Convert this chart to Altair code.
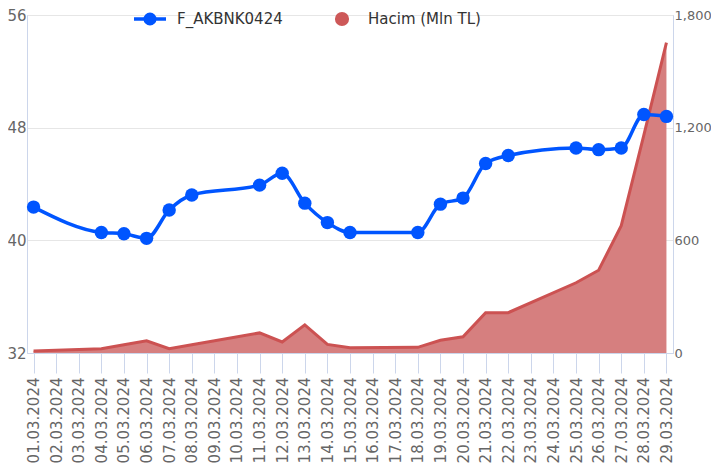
import altair as alt
import pandas as pd

dates = ["01.03.2024", "02.03.2024", "03.03.2024", "04.03.2024", "05.03.2024",
         "06.03.2024", "07.03.2024", "08.03.2024", "09.03.2024", "10.03.2024",
         "11.03.2024", "12.03.2024", "13.03.2024", "14.03.2024", "15.03.2024",
         "16.03.2024", "17.03.2024", "18.03.2024", "19.03.2024", "20.03.2024",
         "21.03.2024", "22.03.2024", "23.03.2024", "24.03.2024", "25.03.2024",
         "26.03.2024", "27.03.2024", "28.03.2024", "29.03.2024"]

trade_dates = ["01.03.2024", "04.03.2024", "05.03.2024", "06.03.2024", "07.03.2024",
               "08.03.2024", "11.03.2024", "12.03.2024", "13.03.2024", "14.03.2024",
               "15.03.2024", "18.03.2024", "19.03.2024", "20.03.2024", "21.03.2024",
               "22.03.2024", "25.03.2024", "26.03.2024", "27.03.2024", "28.03.2024",
               "29.03.2024"]

price = [42.36, 40.56, 40.47, 40.14, 42.15,
         43.22, 43.92, 44.76, 42.64, 41.26,
         40.56, 40.56, 42.57, 43.0, 45.46,
         46.02, 46.56, 46.44, 46.56, 48.94,
         48.8]

volume = [10, 23, 44, 65, 23,
          44, 107, 59, 150, 46,
          28, 30, 68, 86, 215,
          215, 374, 441, 678, 1160,
          1653]

series_names = ["F_AKBNK0424", "Hacim (Mln TL)"]

df = pd.DataFrame({"date": trade_dates, "price": price, "volume": volume})
one = pd.DataFrame({"k": [0]})

BLUE = "#0055ff"
RED_LINE = "#cc5252"
RED_FILL = "#d67f7f"
AXIS_LINE = "#ccd6eb"
LABEL = "#666666"
FONT = "DejaVu Sans"

x = alt.X(
    "date:O",
    scale=alt.Scale(domain=dates, type="point", padding=0.29),
    axis=alt.Axis(title=None, labelAngle=-90, labelFontSize=15, labelColor=LABEL,
                  labelFont=FONT, tickSize=20, tickColor=AXIS_LINE, domainColor=AXIS_LINE,
                  labelPadding=4, grid=False),
)

area = alt.Chart(df).mark_area(
    color=RED_FILL, opacity=1,
    line=alt.OverlayMarkDef(color=RED_LINE, strokeWidth=3),
).encode(
    x=x,
    y=alt.Y("volume:Q", scale=alt.Scale(domain=[0, 1800], nice=False),
            axis=alt.Axis(orient="right", title=None, values=[0, 600, 1200, 1800], format=",.0f",
                          ticks=False, grid=False, domainColor=AXIS_LINE, labelColor=LABEL,
                          labelFontSize=13, labelFont=FONT, labelPadding=1)),
)

line = alt.Chart(df).mark_line(
    color=BLUE, strokeWidth=3.5, interpolate="monotone",
    point=alt.OverlayMarkDef(filled=True, size=180, color=BLUE, opacity=1),
).encode(
    x=x,
    y=alt.Y("price:Q", scale=alt.Scale(domain=[32, 56], nice=False, zero=False),
            axis=alt.Axis(orient="left", title=None, values=[32, 40, 48, 56], grid=True,
                          gridColor="#e6e6e6", ticks=False, domainColor=AXIS_LINE,
                          labelColor=LABEL, labelFontSize=15, labelFont=FONT, labelPadding=1)),
)

leg_line = alt.Chart(one).mark_rule(color=BLUE, strokeWidth=3.5).encode(
    x=alt.value(107), x2=alt.value(139), y=alt.value(4))
leg_dot1 = alt.Chart(one).mark_point(filled=True, size=170, color=BLUE, opacity=1).encode(
    x=alt.value(123), y=alt.value(4))
leg_txt1 = alt.Chart(one).mark_text(align="left", baseline="middle", fontSize=15, font=FONT,
                                    color="#333333").encode(
    x=alt.value(150), y=alt.value(4), text=alt.value(series_names[0]))
leg_dot2 = alt.Chart(one).mark_point(filled=True, size=200, color="#cd5858", opacity=1).encode(
    x=alt.value(315), y=alt.value(4))
leg_txt2 = alt.Chart(one).mark_text(align="left", baseline="middle", fontSize=15, font=FONT,
                                    color="#333333").encode(
    x=alt.value(341), y=alt.value(4), text=alt.value(series_names[1]))

chart = alt.layer(area, line, leg_line, leg_dot1, leg_txt1, leg_dot2, leg_txt2).resolve_scale(
    y="independent"
).properties(
    width=646, height=338, autosize="none",
    padding={"left": 19, "top": 7, "right": 38, "bottom": 111},
).configure_view(stroke=None).configure(background="white")

chart.save("out.html", embed_options={"renderer": "svg", "actions": False})
